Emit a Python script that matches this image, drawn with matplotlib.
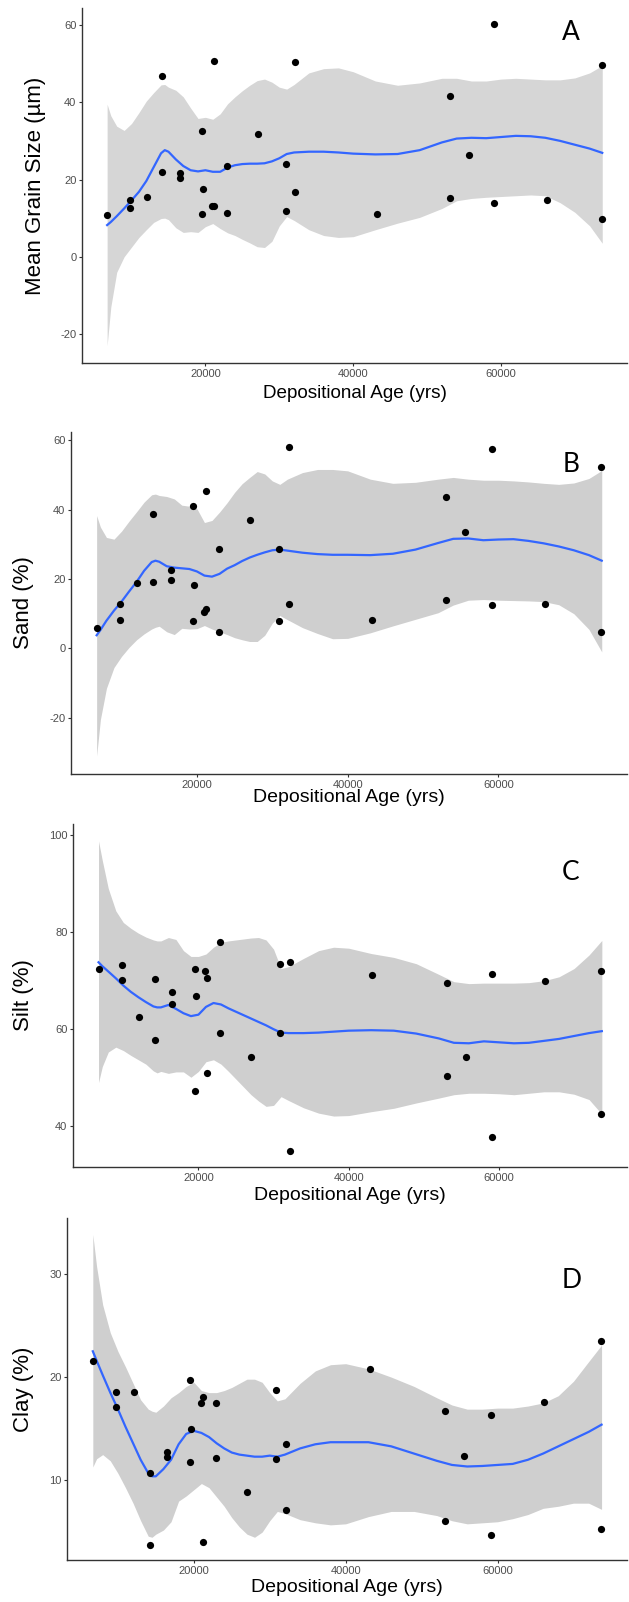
import matplotlib
matplotlib.use("Agg")
import matplotlib.pyplot as plt

plt.rcParams['font.family'] = ['Liberation Sans', 'DejaVu Sans']
plt.rcParams['axes.unicode_minus'] = False

# sample ages (yrs) shared by all four measurements
age = [6700, 9780, 9780, 12100, 14180, 14180, 16500, 16500, 19480, 19480,
       19680, 20900, 21180, 21180, 22900, 22900, 27060, 30870, 30870, 32160,
       32160, 43170, 53050, 53050, 55620, 59080, 59080, 66160, 73640, 73640]

grain = [10.8, 14.7, 12.7, 15.5, 46.8, 21.9, 21.8, 20.3, 32.6, 11.2,
         17.6, 13.2, 50.8, 13.1, 23.6, 11.4, 31.9, 24.1, 11.9, 50.3,
         16.7, 11.1, 41.5, 15.3, 26.3, 60.3, 13.9, 14.7, 49.6, 9.8]
sand = [6.0, 12.8, 8.3, 19.0, 38.7, 19.1, 22.6, 19.7, 41.2, 8.0,
        18.4, 10.5, 45.3, 11.3, 28.7, 4.8, 37.1, 28.7, 7.8, 58.2,
        12.8, 8.2, 43.6, 14.0, 33.5, 57.6, 12.5, 12.8, 52.3, 4.6]
silt = [72.4, 73.3, 70.2, 62.6, 70.4, 57.7, 67.6, 65.2, 72.4, 47.2,
        66.8, 72.0, 70.6, 50.9, 77.9, 59.3, 54.2, 73.5, 59.2, 73.9,
        34.8, 71.2, 69.5, 50.4, 54.2, 71.4, 37.8, 69.9, 72.0, 42.5]
clay = [21.6, 18.6, 17.1, 18.6, 10.7, 3.8, 12.8, 12.3, 19.7, 11.8,
        15.0, 17.5, 18.1, 4.0, 17.5, 12.2, 8.9, 18.8, 12.1, 13.5,
        7.1, 20.8, 16.7, 6.1, 12.4, 16.3, 4.7, 17.6, 23.5, 5.3]

# loess fits with their confidence bands
fit_age = [6700, 7200, 8000, 9000, 10000, 11000, 12000, 13000, 14000, 14500,
           15000, 16000, 17000, 18000, 19000, 20000, 21000, 22000, 23000, 24000,
           25000, 26000, 27000, 28000, 29000, 30000, 31000, 32000, 34000, 36000,
           38000, 40000, 43000, 46000, 49000, 52000, 54000, 56000, 58000, 60000,
           62000, 64000, 66000, 68000, 70000, 72000, 73700]

grain_fit = [8.2, 9.0, 10.5, 12.5, 14.6, 16.8, 19.6, 23.2, 26.8, 27.6,
             27.2, 25.2, 23.5, 22.4, 22.1, 22.4, 22.0, 22.0, 23.1, 23.7,
             24.0, 24.1, 24.1, 24.2, 24.7, 25.5, 26.6, 27.0, 27.2, 27.2,
             27.0, 26.7, 26.5, 26.6, 27.6, 29.6, 30.6, 30.8, 30.7, 31.0,
             31.3, 31.2, 30.8, 30.0, 29.0, 28.0, 26.9]
grain_hi = [39.5, 36.5, 33.8, 32.7, 34.5, 37.3, 40.3, 42.5, 44.5, 44.6,
            43.9, 43.1, 41.4, 38.5, 35.8, 36.1, 35.6, 37.0, 39.6, 41.4,
            43.0, 44.4, 45.6, 46.0, 45.2, 43.9, 43.4, 44.6, 47.6, 48.7,
            48.9, 47.9, 45.5, 44.4, 45.0, 46.2, 46.2, 45.5, 45.5, 46.0,
            46.2, 46.0, 45.8, 45.8, 46.3, 47.6, 49.5]
grain_lo = [-23.0, -13.0, -4.0, 0.0, 2.5, 5.0, 7.0, 8.9, 9.9, 10.0,
            9.6, 7.5, 6.3, 6.5, 6.3, 7.8, 8.6, 7.3, 6.2, 5.5,
            4.5, 3.6, 2.6, 2.4, 4.0, 8.0, 10.4, 9.4, 7.0, 5.5,
            5.0, 5.2, 7.0, 8.7, 10.2, 12.5, 14.5, 15.1, 15.4, 15.6,
            15.8, 16.0, 15.8, 14.0, 11.5, 8.0, 3.5]

sand_fit = [3.8, 5.3, 8.0, 10.9, 13.5, 16.4, 19.2, 22.4, 24.9, 25.3,
            25.0, 23.7, 23.3, 23.1, 22.9, 22.2, 21.0, 20.7, 21.5, 23.0,
            24.0, 25.2, 26.2, 27.0, 27.7, 28.3, 28.5, 28.2, 27.6, 27.2,
            27.0, 27.0, 26.9, 27.3, 28.5, 30.4, 31.6, 31.7, 31.2, 31.4,
            31.5, 31.0, 30.3, 29.4, 28.3, 26.9, 25.3]
sand_hi = [38.3, 35.0, 32.0, 31.5, 33.8, 36.7, 39.4, 42.2, 44.3, 44.5,
           44.1, 43.8, 43.1, 41.3, 41.0, 40.3, 36.3, 36.9, 39.3, 42.0,
           45.0, 47.5, 49.3, 51.0, 50.3, 48.3, 47.3, 48.8, 50.7, 51.6,
           51.6, 51.2, 48.8, 47.6, 47.9, 48.8, 49.3, 48.8, 48.5, 48.5,
           48.3, 48.0, 47.6, 47.3, 47.7, 49.0, 51.3]
sand_lo = [-31.0, -20.5, -11.5, -5.5, -2.3, 0.3, 2.5, 4.2, 5.6, 6.1,
           6.4, 4.8, 4.0, 5.8, 5.6, 5.7, 6.6, 5.6, 4.8, 4.0,
           3.1, 2.5, 2.0, 2.0, 3.8, 7.3, 9.5, 8.3, 6.0, 4.3,
           2.8, 2.9, 4.5, 6.5, 8.4, 10.3, 12.5, 13.9, 14.1, 13.9,
           13.8, 13.7, 13.5, 12.6, 10.0, 5.5, -1.0]

silt_fit = [73.8, 73.0, 71.9, 70.5, 69.0, 67.7, 66.6, 65.6, 64.7, 64.5,
            64.5, 65.0, 64.2, 63.3, 62.7, 63.0, 64.6, 65.4, 65.1, 64.3,
            63.6, 62.9, 62.2, 61.5, 60.8, 60.0, 59.3, 59.2, 59.2, 59.3,
            59.5, 59.7, 59.8, 59.7, 59.1, 58.1, 57.2, 57.1, 57.5, 57.3,
            57.1, 57.2, 57.6, 58.0, 58.6, 59.2, 59.6]
silt_hi = [98.8, 94.8, 89.0, 84.4, 82.0, 80.8, 79.8, 79.0, 78.4, 78.2,
           78.2, 78.9, 78.5, 76.2, 75.0, 75.0, 75.5, 76.9, 77.9, 78.2,
           78.4, 78.6, 78.8, 78.9, 78.4, 76.5, 72.5, 72.9, 74.6, 76.2,
           76.9, 76.7, 75.6, 74.8, 73.5, 71.3, 69.8, 69.4, 69.5, 69.5,
           69.5, 69.6, 70.0, 70.8, 72.5, 75.3, 78.3]
silt_lo = [49.0, 52.3, 55.3, 56.3, 55.6, 54.6, 53.7, 52.8, 51.4, 51.0,
           51.3, 50.9, 51.2, 51.2, 50.1, 51.3, 53.3, 53.7, 52.8, 51.3,
           49.7, 48.1, 46.5, 45.2, 44.1, 44.3, 46.1, 45.3, 43.8, 42.7,
           42.1, 42.2, 43.0, 43.7, 44.8, 45.8, 46.5, 46.8, 46.8, 46.7,
           46.5, 46.8, 47.1, 47.1, 46.6, 45.5, 42.5]

clay_fit = [22.5, 21.6, 20.2, 18.5, 16.9, 15.2, 13.6, 12.0, 10.7, 10.4,
            10.4, 11.1, 12.0, 13.5, 14.5, 14.8, 14.6, 14.2, 13.6, 13.1,
            12.7, 12.5, 12.4, 12.3, 12.3, 12.4, 12.3, 12.5, 13.1, 13.5,
            13.7, 13.7, 13.7, 13.3, 12.6, 11.9, 11.5, 11.35, 11.4, 11.5,
            11.6, 12.0, 12.6, 13.3, 14.0, 14.7, 15.4]
clay_hi = [33.8, 30.7, 27.0, 24.3, 22.5, 21.0, 19.4, 17.8, 16.9, 16.7,
           16.6, 17.2, 18.0, 18.5, 19.1, 19.5, 18.7, 18.5, 18.5, 18.7,
           19.0, 19.4, 19.8, 19.8, 19.5, 18.5, 17.7, 17.9, 19.4, 20.6,
           21.2, 21.3, 20.8, 20.0, 19.1, 18.0, 17.3, 16.9, 16.9, 17.0,
           17.0, 17.2, 17.5, 18.2, 19.6, 21.5, 23.1]
clay_lo = [11.3, 12.1, 12.5, 11.9, 10.7, 9.3, 7.8, 6.1, 4.6, 4.5,
           4.8, 5.2, 6.0, 8.0, 8.5, 9.1, 9.7, 9.3, 8.4, 7.5,
           6.4, 5.5, 4.8, 4.5, 5.0, 6.1, 7.0, 6.8, 6.2, 5.9,
           5.7, 5.8, 6.5, 7.0, 7.0, 6.6, 6.1, 5.8, 5.9, 6.0,
           6.3, 6.7, 7.3, 7.5, 7.8, 7.8, 7.2]

W, H = 629, 1602
fig = plt.figure(figsize=(W / 100, H / 100), dpi=100)


def panel(box, pts, fit, lo, hi, ylim, yticks, ylab, ylab_x, xlab_y,
          letter, letter_xy, band, xlab_size=14):
    # box is (left, top, right, bottom) in pixels
    l, t, r, b = box
    ax = fig.add_axes([l / W, 1 - b / H, (r - l) / W, (b - t) / H])
    ax.fill_between(fit_age, lo, hi, color=band, lw=0, zorder=1)
    ax.plot(fit_age, fit, color='#3366ff', lw=1.6, zorder=2)
    ax.scatter(age, pts, s=27, color='black', linewidths=0, zorder=3)

    ax.set_xlim(3300, 77050)
    ax.set_ylim(*ylim)
    ax.set_xticks([20000, 40000, 60000])
    ax.set_yticks(yticks)
    for s in ['top', 'right']:
        ax.spines[s].set_visible(False)
    for s in ['left', 'bottom']:
        ax.spines[s].set_color('#333333')
        ax.spines[s].set_linewidth(1.0)
    ax.tick_params(length=2.5, width=0.8, color='#333333', pad=1.5,
                   labelsize=8, labelcolor='#4d4d4d')

    fig.text(ylab_x / W, 1 - (t + b) / 2 / H, ylab, rotation=90,
             ha='center', va='center', fontsize=16)
    fig.text((l + r) / 2 / W, 1 - xlab_y / H, 'Depositional Age (yrs)',
             ha='center', va='center', fontsize=xlab_size)
    fig.text(letter_xy[0] / W, 1 - letter_xy[1] / H, letter,
             ha='center', va='center', fontsize=19, family='Lato')
    return ax


panel((82, 8, 627, 363), grain, grain_fit, grain_lo, grain_hi,
      (-27.5, 64.4), [-20, 0, 20, 40, 60], 'Mean Grain Size (µm)', 36, 393,
      'A', (571, 33), '#d6d6d6', xlab_size=13.6)
panel((71, 432, 627, 774), sand, sand_fit, sand_lo, sand_hi,
      (-36.2, 62.4), [-20, 0, 20, 40, 60], 'Sand (%)', 24, 798,
      'B', (571, 465), '#cfcfcf')
panel((73, 824, 627, 1167), silt, silt_fit, silt_lo, silt_hi,
      (31.6, 102.3), [40, 60, 80, 100], 'Silt (%)', 24, 1195,
      'C', (571, 873), '#cfcfcf')
panel((67, 1218, 627, 1560), clay, clay_fit, clay_lo, clay_hi,
      (2.3, 35.4), [10, 20, 30], 'Clay (%)', 24, 1588,
      'D', (572, 1280), '#cfcfcf')

fig.savefig('out.png', dpi=100)
